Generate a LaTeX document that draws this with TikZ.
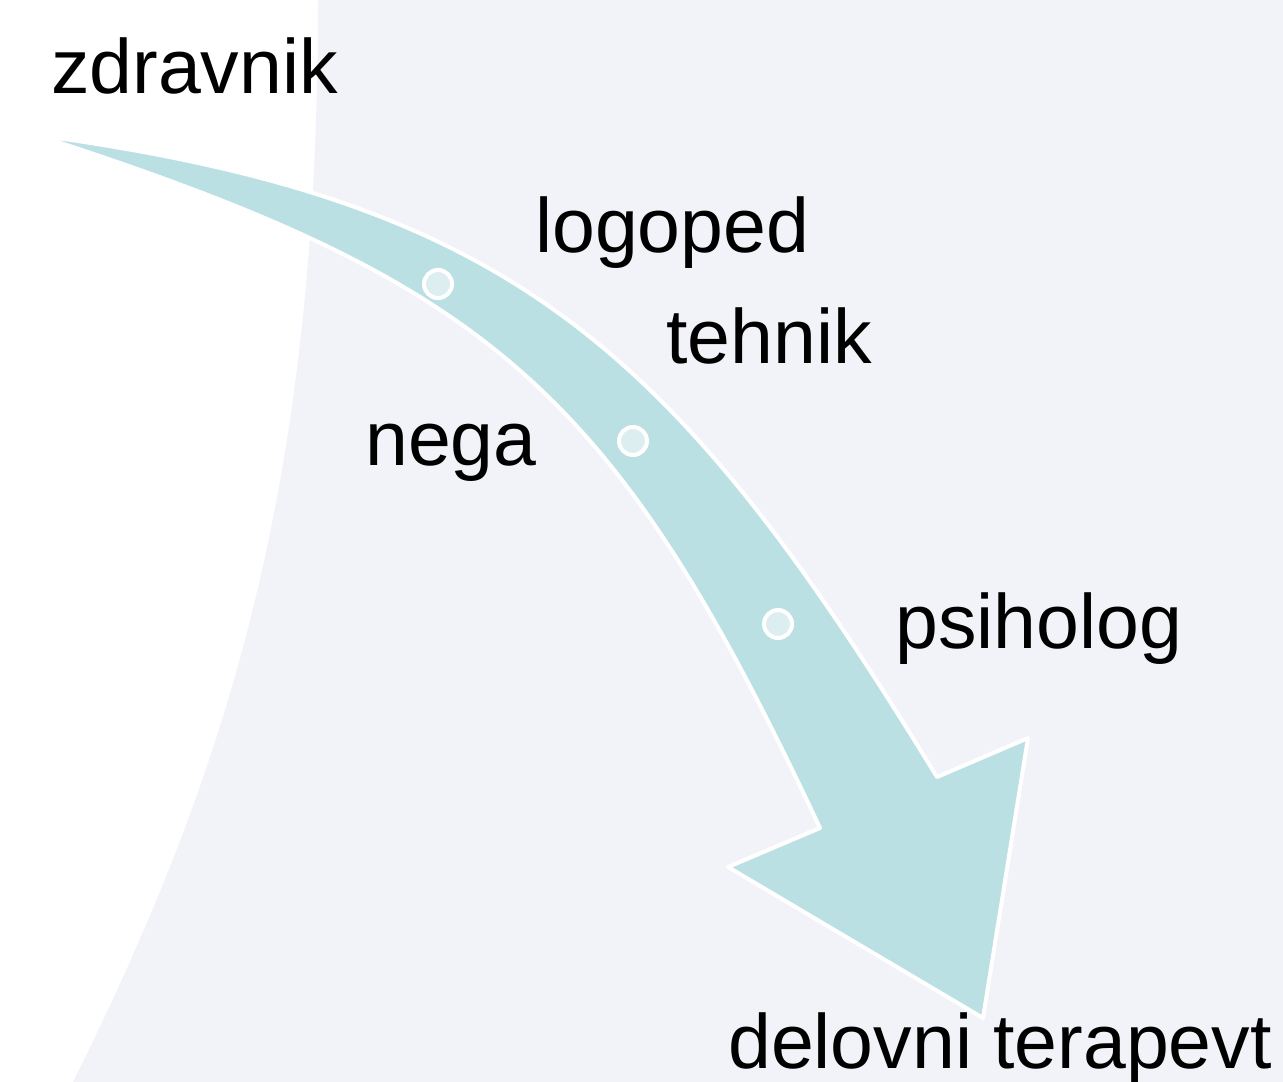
\documentclass[tikz,border=0pt]{standalone}
\usepackage{fontspec}
\setmainfont{Liberation Sans}
\definecolor{bglav}{HTML}{F2F3F8}
\definecolor{arrowfill}{HTML}{BBE0E3}
\definecolor{dotfill}{HTML}{DCEEF0}
\begin{document}
\begin{tikzpicture}[x=1pt,y=-1pt,
  lbl/.style={anchor=base west,inner sep=0pt,font=\fontsize{77}{90}\selectfont,text=black},
  dotnode/.style={circle,draw=white,line width=4pt,fill=dotfill,minimum size=28pt,inner sep=0pt},
  flow/.style={fill=arrowfill,draw=white,line width=4pt,line join=round}]
\useasboundingbox (0,0) rectangle (1283,1082);
\fill[white] (0,0) rectangle (1283,1082);
\fill[bglav] (318,0) .. controls (318,476) and (232,763) .. (73,1082)
  -- (1283,1082) -- (1283,0) -- cycle;
% curved arrow
\coordinate (tail) at (36,135);
\coordinate (ia) at (937,777);
\coordinate (ba) at (1028,738);
\coordinate (tip) at (983,1018);
\coordinate (bb) at (728,867);
\coordinate (ib) at (820,828);
\draw[flow] (tail) .. controls (515,200) and (675,349) .. (ia)
  -- (ba) -- (tip) -- (bb) -- (ib)
  .. controls (615,392) and (495,283) .. (tail) -- cycle;
\node[dotnode] (d1) at (438,284) {};
\node[dotnode] (d2) at (633,441) {};
\node[dotnode] (d3) at (778,624) {};
\node[lbl] (zdr) at (51,93) {zdravnik};
\node[lbl] (logo) at (535,252) {logoped};
\node[lbl] (teh) at (666,363) {tehnik};
\node[lbl] (neg) at (365,465) {nega};
\node[lbl] (psi) at (895,648) {psiholog};
\node[lbl] (del) at (728,1068) {delovni terapevt};
\end{tikzpicture}
\end{document}
